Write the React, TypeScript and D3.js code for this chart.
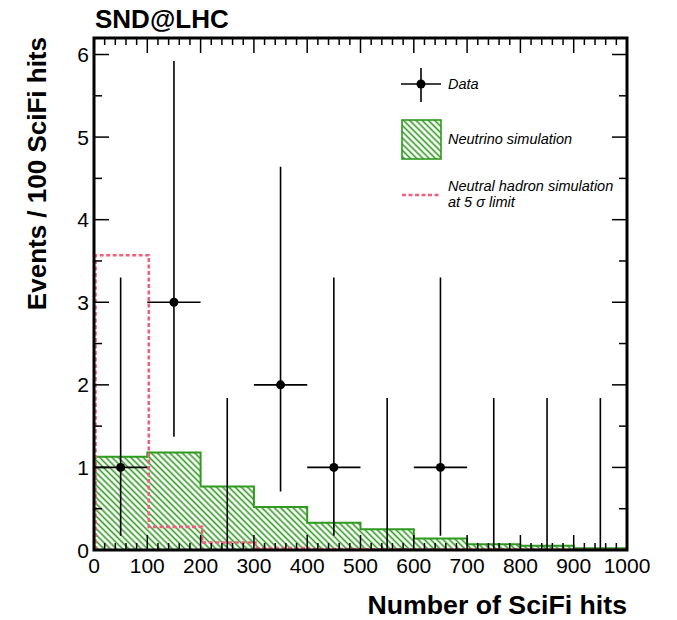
import React from "react";
import * as d3 from "d3";

const binEdges = [0, 100, 200, 300, 400, 500, 600, 700, 800, 900, 1000];
const neutrinoSim = [1.13, 1.18, 0.77, 0.52, 0.33, 0.25, 0.14, 0.07, 0.05, 0.02];
const hadronSim = [3.57, 0.28, 0.09, 0.025, 0.012, 0.008, 0.006, 0.004, 0.003, 0.002];
const dataX = [50, 150, 250, 350, 450, 550, 650, 750, 850, 950];
const dataY = [1, 3, 0, 2, 1, 0, 1, 0, 0, 0];
const dataLow = [0.173, 1.37, 0, 0.708, 0.173, 0, 0.173, 0, 0, 0];
const dataHigh = [3.3, 5.92, 1.84, 4.64, 3.3, 1.84, 3.3, 1.84, 1.84, 1.84];
const xTicks = [0, 100, 200, 300, 400, 500, 600, 700, 800, 900, 1000];
const yTicks = [0, 1, 2, 3, 4, 5, 6];

const W = 677;
const H = 620;
const L = 94, R = 627, T = 38, B = 550;

export default function App() {
  const x = d3.scaleLinear().domain([0, 1000]).range([L, R]);
  const y = d3.scaleLinear().domain([0, 6.2]).range([B, T]);

  const stepPts = (vals: number[]) => {
    const pts: [number, number][] = [[binEdges[0], 0]];
    vals.forEach((v, i) => {
      pts.push([binEdges[i], v]);
      pts.push([binEdges[i + 1], v]);
    });
    pts.push([binEdges[binEdges.length - 1], 0]);
    return pts;
  };

  const line = d3.line<[number, number]>().x((d) => x(d[0])).y((d) => y(d[1]));
  const area = d3
    .area<[number, number]>()
    .x((d) => x(d[0]))
    .y0(y(0))
    .y1((d) => y(d[1]));

  const nuPts = stepPts(neutrinoSim);
  const hadPts = stepPts(hadronSim);

  const xMinor = d3.range(0, 1001, 20).filter((v) => v % 100 !== 0);
  const yMinor = d3.range(0.5, 6.2, 1);

  const font = "'Liberation Sans', Arial, Helvetica, sans-serif";
  const green = "#2e9a1e";
  const red = "#f0607a";

  return (
    <svg
      width={W}
      height={H}
      style={{ position: "absolute", left: 0, top: 0, background: "#fff" }}
      fontFamily={font}
    >
      <defs>
        <pattern
          id="hatch"
          patternUnits="userSpaceOnUse"
          width={4.4}
          height={4.4}
          patternTransform="rotate(45)"
        >
          <line x1={0} y1={2.2} x2={4.4} y2={2.2} stroke={green} strokeWidth={1.6} />
        </pattern>
        <clipPath id="plotclip">
          <rect x={L} y={T} width={R - L} height={B - T} />
        </clipPath>
      </defs>

      <text x={95} y={28} fontSize={26} fontWeight="bold" fill="#000">
        SND@LHC
      </text>

      <g clipPath="url(#plotclip)">
        <path d={area(nuPts) || ""} fill="url(#hatch)" stroke="none" />
        <path d={line(nuPts.slice(1)) || ""} fill="none" stroke={green} strokeWidth={2} />
        <path
          d={line(hadPts) || ""}
          fill="none"
          stroke={red}
          strokeWidth={2.6}
          strokeDasharray="4,2.5"
          transform="translate(1.5,0)"
        />
      </g>

      {/* data */}
      {dataX.map((dx, i) => (
        <g key={i}>
          <line
            x1={x(dx)}
            x2={x(dx)}
            y1={y(dataLow[i])}
            y2={y(dataHigh[i])}
            stroke="#000"
            strokeWidth={1.6}
          />
          {dataY[i] > 0 && (
            <>
              <line
                x1={x(dx - 50)}
                x2={x(dx + 50)}
                y1={y(dataY[i])}
                y2={y(dataY[i])}
                stroke="#000"
                strokeWidth={1.6}
              />
              <circle cx={x(dx)} cy={y(dataY[i])} r={4.5} fill="#000" />
            </>
          )}
        </g>
      ))}

      {/* frame */}
      <rect x={L} y={T} width={R - L} height={B - T} fill="none" stroke="#000" strokeWidth={3} />

      {/* x ticks */}
      {xTicks.map((t) => (
        <g key={"xt" + t}>
          <line x1={x(t)} x2={x(t)} y1={B} y2={B - 15} stroke="#000" strokeWidth={1.5} />
          <line x1={x(t)} x2={x(t)} y1={T} y2={T + 15} stroke="#000" strokeWidth={1.5} />
          <text x={x(t)} y={573} fontSize={21} textAnchor="middle" fill="#000">
            {t}
          </text>
        </g>
      ))}
      {xMinor.map((t) => (
        <g key={"xm" + t}>
          <line x1={x(t)} x2={x(t)} y1={B} y2={B - 7} stroke="#000" strokeWidth={1.5} />
          <line x1={x(t)} x2={x(t)} y1={T} y2={T + 7} stroke="#000" strokeWidth={1.5} />
        </g>
      ))}

      {/* y ticks */}
      {yTicks.map((t) => (
        <g key={"yt" + t}>
          <line x1={L} x2={L + 15} y1={y(t)} y2={y(t)} stroke="#000" strokeWidth={1.5} />
          <line x1={R} x2={R - 15} y1={y(t)} y2={y(t)} stroke="#000" strokeWidth={1.5} />
          <text x={89} y={y(t)} dy="0.36em" fontSize={21} textAnchor="end" fill="#000">
            {t}
          </text>
        </g>
      ))}
      {yMinor.map((t) => (
        <g key={"ym" + t}>
          <line x1={L} x2={L + 8} y1={y(t)} y2={y(t)} stroke="#000" strokeWidth={1.5} />
          <line x1={R} x2={R - 8} y1={y(t)} y2={y(t)} stroke="#000" strokeWidth={1.5} />
        </g>
      ))}

      {/* axis titles */}
      <text x={627} y={614} fontSize={26.7} fontWeight="bold" textAnchor="end" fill="#000">
        Number of SciFi hits
      </text>
      <text
        transform="translate(46,37) rotate(-90)"
        fontSize={26}
        fontWeight="bold"
        textAnchor="end"
        fill="#000"
      >
        Events / 100 SciFi hits
      </text>

      {/* legend */}
      <g>
        <line x1={401} x2={441} y1={84} y2={84} stroke="#000" strokeWidth={1.6} />
        <line x1={421} x2={421} y1={68} y2={102} stroke="#000" strokeWidth={1.6} />
        <circle cx={421} cy={84} r={4.5} fill="#000" />
        <text x={448} y={89} fontSize={14.5} fontStyle="italic" fill="#000">
          Data
        </text>

        <rect x={402} y={120} width={39} height={39} fill="url(#hatch)" stroke={green} strokeWidth={1.6} />
        <text x={448} y={144} fontSize={14.5} fontStyle="italic" fill="#000">
          Neutrino simulation
        </text>

        <line x1={402} x2={441} y1={195} y2={195} stroke={red} strokeWidth={2.6} strokeDasharray="4,2.5" />
        <text x={448} y={191} fontSize={14.5} fontStyle="italic" fill="#000">
          Neutral hadron simulation
        </text>
        <text x={448} y={207} fontSize={14.5} fontStyle="italic" fill="#000">
          at 5 σ limit
        </text>
      </g>
    </svg>
  );
}
